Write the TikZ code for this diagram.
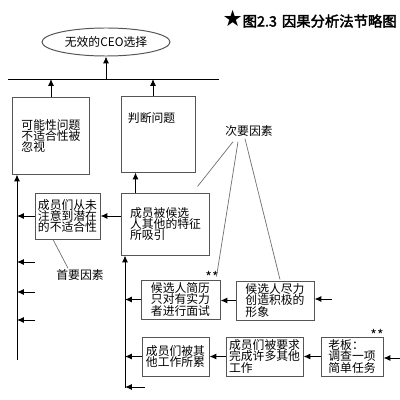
\documentclass[tikz,border=0pt]{standalone}
\usepackage{fontspec}
\setmainfont{Noto Sans CJK SC}
\newfontfamily\titlefont[FakeBold=2.5]{Noto Sans CJK SC}
\newfontfamily\symfont{DejaVu Sans}
\usetikzlibrary{shapes.geometric}
\usetikzlibrary{arrows.meta}
\usepackage{xcolor}
\definecolor{boxgray}{RGB}{85,85,85}
\definecolor{tiegray}{RGB}{110,110,110}

\begin{document}
\begin{tikzpicture}[x=0.025cm, y=-0.025cm,
    cause/.style={draw=boxgray, rectangle, align=left, inner sep=0pt, line width=0.7pt, font=\fontsize{8.4}{8}\selectfont},
    tag/.style={inner sep=0pt, font=\fontsize{8.4}{8}\selectfont},
    link/.style={-{Latex[length=1.7mm,width=1.5mm]}, line width=0.7pt},
    tie/.style={draw=tiegray, line width=0.5pt}]

    \useasboundingbox (0,0) rectangle (400,400);

    % title and top effect
    \node[anchor=east, inner sep=0pt, font=\titlefont\fontsize{10.2}{12}\selectfont] (title) at (397,19) {{\symfont\fontsize{16}{16}\selectfont ★}图2.3\hspace{0.35em}因果分析法节略图};
    \node[draw=boxgray, ellipse, line width=0.7pt, minimum width=3.2cm, minimum height=0.7cm, inner sep=0pt, font=\fontsize{8.4}{8}\selectfont] (goal) at (106,42) {无效的CEO选择};

    \coordinate (busL) at (8,79);
    \coordinate (busR) at (219,79);
    \draw[line width=0.7pt] (busL) -- (busR);

    % boxes
    \node[cause, minimum width=1.9cm, minimum height=1.9cm] (box1) at (51,136) {可能性问题\\不适合性被\\忽视};
    \node[cause, minimum width=1.85cm, inner xsep=0.175cm, text width=1.5cm, text height=0.65cm, text depth=1.225cm] (box2) at (158,134.5) {判断问题};
    \node[cause, minimum width=1.625cm, minimum height=1.15cm] (box3) at (67.5,216) {成员们从未\\注意到潜在\\的不适合性};
    \node[cause, minimum width=2.175cm, minimum height=1.55cm] (box4) at (165.5,224) {成员被候选\\人其他的特征\\所吸引};
    \node[cause, minimum width=1.975cm, minimum height=0.975cm] (box5) at (180.5,299.5) {候选人简历\\只对有实力\\者进行面试};
    \node[cause, minimum width=1.95cm, minimum height=0.975cm] (box6) at (275,300.5) {候选人尽力\\创造积极的\\形象};
    \node[cause, minimum width=1.675cm, minimum height=0.975cm] (box7) at (175.5,356.5) {成员们被其\\他工作所累};
    \node[cause, minimum width=1.925cm, minimum height=0.975cm] (box8) at (264.5,356.5) {成员们被要求\\完成许多其他\\工作};
    \node[cause, minimum width=1.55cm, minimum height=0.975cm] (box9) at (352,356.5) {老板：\\调查一项\\简单任务};

    % labels
    \node[tag] (minor) at (249,131) {次要因素};
    \node[tag] (primary) at (80,275) {首要因素};
    \node[tag, font=\fontsize{10}{10}\selectfont] (mark5) at (212,277) {**};
    \node[tag, font=\fontsize{10}{10}\selectfont] (mark9) at (377,335) {**};

    % arrows up to the effect
    \draw[link] (goal.south |- busL) -- (goal.south);
    \draw[link] (box1.north) -- (box1.north |- busL);
    \draw[link] ([xshift=-0.125cm]box2.north) -- ([xshift=-0.125cm]box2.north |- busL);
    \draw[link] ([xshift=-0.75cm]box4.north) -- ([xshift=-0.75cm]box4.north |- box2.south);

    % left spine
    \coordinate (spineA) at (17,360);
    \draw[link] (spineA) -- (spineA |- box1.south);
    \draw[link] (box3.west) -- (box3.west -| spineA);
    \foreach \y [count=\i] in {262,292,320} {
        \coordinate (freeA\i) at (35,\y);
        \draw[link] (freeA\i) -- (freeA\i -| spineA);
    }
    \draw[link] (box4.west |- box3.east) -- (box3.east);

    % second spine
    \coordinate (spineB) at (125,388);
    \draw[link] (spineB) -- (spineB |- box4.south);
    \draw[link] (box5.west) -- (box5.west -| spineB);
    \draw[link] (box6.west) -- (box6.west -| box5.east);
    \coordinate (in6) at (332,299);
    \draw[link] (in6) -- (in6 -| box6.east);
    \draw[link] (box7.west) -- (box7.west -| spineB);
    \draw[link] (box8.west) -- (box8.west -| box7.east);
    \draw[link] (box9.west) -- (box9.west -| box8.east);
    \coordinate (in9) at (400,358);
    \draw[link] (in9) -- (in9 -| box9.east);
    \coordinate (freeB) at (145,387);
    \draw[link] (freeB) -- (freeB -| spineB);

    % factor lines
    \draw[tie] ([shift={(-16,5)}]minor.south) -- ([shift={(-12,-6)}]box4.north east);
    \draw[tie] ([shift={(-11,5)}]minor.south) -- ([shift={(-4,-3)}]box5.north east);
    \draw[tie] ([shift={(-4,2)}]minor.south) -- ([shift={(5,-1)}]box6.north);
    \draw[tie] ([xshift=-0.3625cm]box3.south) -- ([shift={(-12,-1)}]primary.north);
\end{tikzpicture}
\end{document}
